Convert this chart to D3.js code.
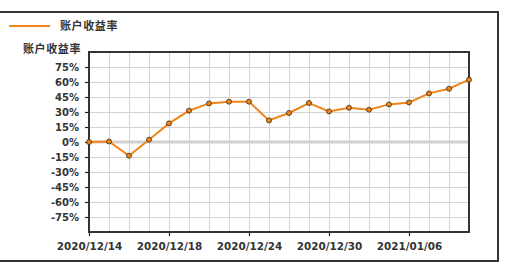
<!DOCTYPE html>
<html lang="zh">
<head>
<meta charset="utf-8">
<script src="https://d3js.org/d3.v7.min.js"></script>
<style>
  body { margin: 0; background: #fff; }
  svg { display: block; }
</style>
</head>
<body>
<script>
// Trading days and account return (%)
var dates = ["2020/12/14", "2020/12/15", "2020/12/16", "2020/12/17", "2020/12/18",
             "2020/12/21", "2020/12/22", "2020/12/23", "2020/12/24", "2020/12/25",
             "2020/12/28", "2020/12/29", "2020/12/30", "2020/12/31", "2021/01/04",
             "2021/01/05", "2021/01/06", "2021/01/07", "2021/01/08", "2021/01/11"];
var returns = [0, 0.5, -13.7, 2.3, 18.6, 31.3, 38.6, 40.3, 40.3, 21.6,
               29, 39, 30.6, 34.3, 32.3, 37.6, 39.6, 48.6, 53.3, 62.3];
var yTicks = [75, 60, 45, 30, 15, 0, -15, -30, -45, -60, -75];
var xTickDates = ["2020/12/14", "2020/12/18", "2020/12/24", "2020/12/30", "2021/01/06"];
var seriesName = "账户收益率";

var w = 514, h = 267;
// plot area edges (note: "top" is reserved on window, so use plot* names)
var plotL = 89, plotR = 469, plotT = 52, plotB = 232;

var svg = d3.select("body").append("svg")
    .attr("width", w)
    .attr("height", h);

// outer frame
svg.append("rect")
    .attr("x", -2).attr("y", 12)
    .attr("width", 500).attr("height", 249)
    .attr("fill", "none")
    .attr("stroke", "#333")
    .attr("stroke-width", 2);

var x = d3.scalePoint().domain(dates).range([plotL, plotR]);
var y = d3.scaleLinear().domain([-90, 90]).range([plotB, plotT]);

// grid
var grid = svg.append("g").attr("stroke", "#d4d4d4").attr("stroke-width", 1);
grid.selectAll("line.v").data(dates).enter().append("line")
    .attr("class", "v")
    .attr("x1", function(d) { return Math.round(x(d)) + 0.5; })
    .attr("x2", function(d) { return Math.round(x(d)) + 0.5; })
    .attr("y1", plotT).attr("y2", plotB);
grid.selectAll("line.h").data(yTicks).enter().append("line")
    .attr("class", "h")
    .attr("x1", plotL).attr("x2", plotR)
    .attr("y1", function(d) { return Math.round(y(d)) + 0.5; })
    .attr("y2", function(d) { return Math.round(y(d)) + 0.5; });

// zero line
svg.append("line")
    .attr("x1", plotL).attr("x2", plotR)
    .attr("y1", y(0)).attr("y2", y(0))
    .attr("stroke", "#d0d0d0")
    .attr("stroke-width", 3);

// y axis
var yAxis = svg.append("g")
    .attr("transform", "translate(" + plotL + ",0)")
    .call(d3.axisLeft(y).tickValues(yTicks).tickSize(4).tickPadding(6)
        .tickFormat(function(d) { return d + "%"; }));
yAxis.select(".domain").remove();
yAxis.selectAll("line").attr("stroke", "#222").attr("stroke-width", 1.2);
yAxis.selectAll("text")
    .attr("fill", "#333")
    .style("font-family", "DejaVu Sans, Verdana, sans-serif")
    .style("font-size", "10px")
    .style("font-weight", "bold");

// x axis
var xAxis = svg.append("g")
    .attr("transform", "translate(0," + plotB + ")")
    .call(d3.axisBottom(x).tickValues(xTickDates).tickSize(4).tickPadding(7));
xAxis.select(".domain").remove();
xAxis.selectAll("line").attr("stroke", "#222").attr("stroke-width", 1.2);
xAxis.selectAll("text")
    .attr("fill", "#333")
    .style("font-family", "DejaVu Sans, Verdana, sans-serif")
    .style("font-size", "10.4px")
    .style("font-weight", "bold");

// plot frame
svg.append("rect")
    .attr("x", plotL).attr("y", plotT)
    .attr("width", plotR - plotL).attr("height", plotB - plotT)
    .attr("fill", "none")
    .attr("stroke", "#333")
    .attr("stroke-width", 2);

// series line
var line = d3.line()
    .x(function(d, i) { return x(dates[i]); })
    .y(function(d) { return y(d); });

svg.append("path")
    .datum(returns)
    .attr("d", line)
    .attr("fill", "none")
    .attr("stroke", "#f08519")
    .attr("stroke-width", 2);

svg.selectAll("circle.pt").data(returns).enter().append("circle")
    .attr("class", "pt")
    .attr("cx", function(d, i) { return x(dates[i]); })
    .attr("cy", function(d) { return y(d); })
    .attr("r", 2.5)
    .attr("fill", "#f08519")
    .attr("stroke", "#3a2a1a")
    .attr("stroke-width", 0.8);

// legend
svg.append("line")
    .attr("x1", 9).attr("x2", 50)
    .attr("y1", 26).attr("y2", 26)
    .attr("stroke", "#f08519")
    .attr("stroke-width", 2);
svg.append("text")
    .attr("x", 60).attr("y", 30)
    .attr("fill", "#333")
    .style("font-family", "Noto Sans CJK SC, sans-serif")
    .style("font-size", "11px")
    .style("font-weight", "bold")
    .style("letter-spacing", "0.6px")
    .text(seriesName);

// y axis title
svg.append("text")
    .attr("x", 23).attr("y", 53)
    .attr("fill", "#333")
    .style("font-family", "Noto Sans CJK SC, sans-serif")
    .style("font-size", "11px")
    .style("font-weight", "bold")
    .style("letter-spacing", "0.6px")
    .text(seriesName);
</script>
</body>
</html>
